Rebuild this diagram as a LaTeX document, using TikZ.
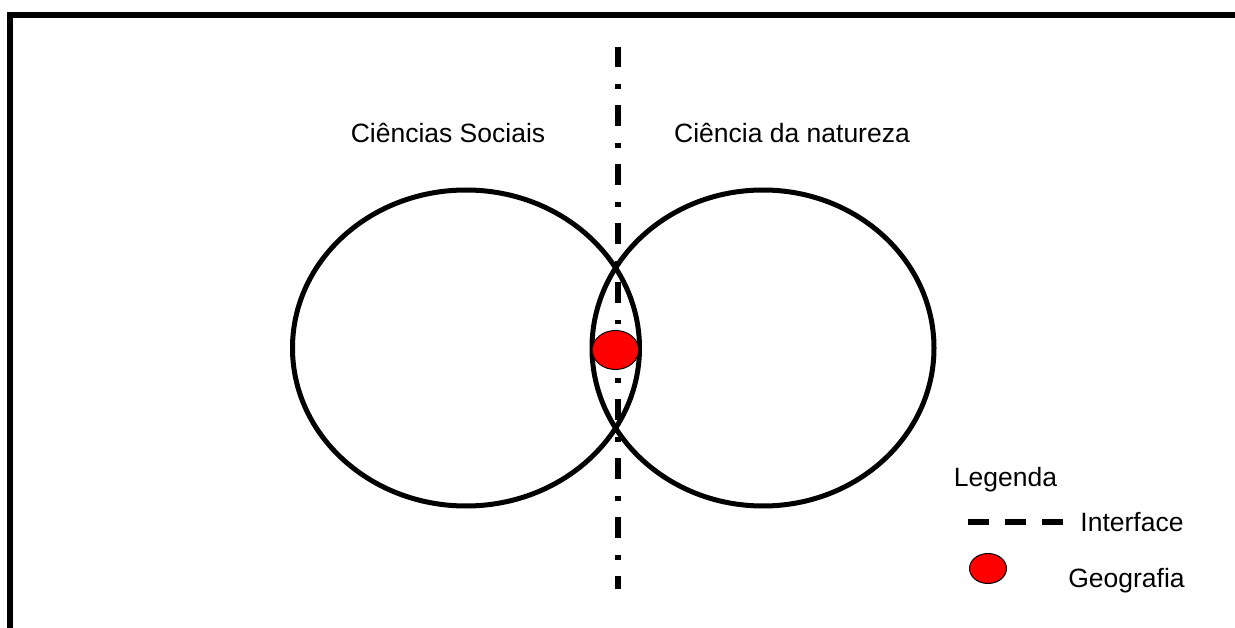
\documentclass[tikz,border=0pt]{standalone}
\usepackage{fontspec}
\setmainfont{Liberation Sans}
\usetikzlibrary{shapes.geometric,positioning}

\begin{document}
\begin{tikzpicture}[x=1pt, y=-1pt,
        area/.style={ellipse, draw=black, line width=5pt, inner sep=0pt},
        geo/.style={ellipse, draw=black, fill=red, line width=1pt, inner sep=0pt},
        label/.style={anchor=base, inner sep=0pt, text=black, font=\fontsize{26.5}{30}\selectfont},
        interface/.style={line width=6pt, dash pattern=on 20.7pt off 17pt on 4.7pt off 16.4pt},
        legendline/.style={line width=6pt, dash pattern=on 21pt off 16pt}]
        \useasboundingbox (0,0) rectangle (1235,628);
        \clip (0,0) rectangle (1235,628);
        % frame
        \draw [line width=6pt, miter limit=10] (10,660) -- (10,15) -- (1260,15);
        % the two sciences
        \node [area, minimum width=347pt, minimum height=316pt] (sociais) at (466,348) {};
        \node [area, minimum width=342pt, minimum height=316pt] (natureza) at (763,348) {};
        \node [label] (sociaistext) at (448,143) {Ciências Sociais};
        \node [label] (naturezatext) at (792,143) {Ciência da natureza};
        % interface
        \coordinate (top) at (618,46.7);
        \coordinate (bottom) at (618,589);
        \draw [interface] (top) -- (bottom);
        \node [geo, minimum width=46.6pt, minimum height=39pt] (geografia) at (615.5,350) {};
        % legend
        \node [label] (legenda) at (1005.5,486) {Legenda};
        \coordinate (dashstart) at (968,522);
        \coordinate (dashend) at (1063,522);
        \draw [legendline] (dashstart) -- (dashend);
        \node [label] (interfacetext) at (1132,531.5) {Interface};
        \node [geo, minimum width=37pt, minimum height=30pt] (geokey) at (988,568.5) {};
        \node [label] (geografiatext) at (1126.5,587) {Geografia};
    \end{tikzpicture}
\end{document}
